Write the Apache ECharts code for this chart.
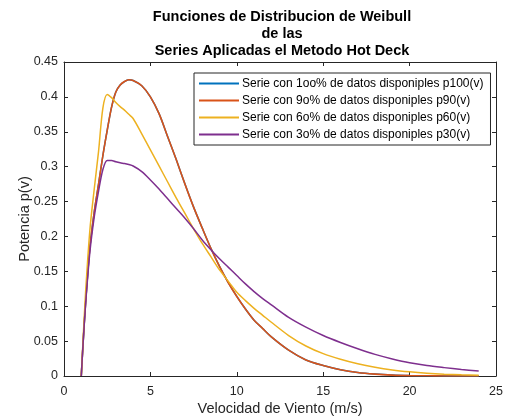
<!DOCTYPE html>
<html>
<head>
<meta charset="utf-8">
<script src="https://cdn.jsdelivr.net/npm/echarts@6/dist/echarts.min.js"></script>
<style>html,body{margin:0;padding:0;background:#fff;}#c{width:507px;height:417px;}</style>
</head>
<body>
<div id="c"></div>
<script>
var titleLines = ['Funciones de Distribucion de Weibull', 'de las', 'Series Aplicadas el Metodo Hot Deck'];
var xLabel = 'Velocidad de Viento (m/s)';
var yLabel = 'Potencia p(v)';
var seriesNames = [
  'Serie con 1oo% de datos disponiples p100(v)',
  'Serie con 9o% de datos disponiples p90(v)',
  'Serie con 6o% de datos disponiples p60(v)',
  'Serie con 3o% de datos disponiples p30(v)'
];
var speeds = [1, 1.1, 1.25, 1.5, 1.75, 2, 2.25, 2.5, 2.75, 3, 3.25, 3.5, 3.75, 4, 4.5, 5, 5.5, 6, 6.5, 7, 7.5, 8, 8.5, 9, 9.5, 10, 10.5, 11, 11.5, 12, 13, 14, 15, 16, 17, 18, 19, 20, 21, 22, 23, 24];
var p100 = [0, 0.045, 0.105, 0.185, 0.235, 0.275, 0.316, 0.352, 0.385, 0.407, 0.417, 0.422, 0.4245, 0.4235, 0.416, 0.4, 0.376, 0.343, 0.31, 0.275, 0.242, 0.212, 0.183, 0.157, 0.134, 0.114, 0.096, 0.08, 0.068, 0.056, 0.037, 0.023, 0.015, 0.009, 0.005, 0.0027, 0.0013, 0.0006, 0.0003, 0.0001, 0.00005, 0.00002];
var p90  = [0, 0.045, 0.105, 0.185, 0.235, 0.275, 0.316, 0.352, 0.385, 0.407, 0.417, 0.422, 0.4245, 0.4235, 0.416, 0.4, 0.376, 0.343, 0.31, 0.275, 0.242, 0.212, 0.183, 0.157, 0.134, 0.114, 0.096, 0.08, 0.068, 0.056, 0.037, 0.023, 0.015, 0.009, 0.005, 0.0027, 0.0013, 0.0006, 0.0003, 0.0001, 0.00005, 0.00002];
var p60  = [0, 0.05, 0.12, 0.21, 0.268, 0.322, 0.384, 0.4035, 0.399, 0.392, 0.386, 0.381, 0.375, 0.369, 0.347, 0.324, 0.301, 0.278, 0.255, 0.233, 0.211, 0.19, 0.171, 0.152, 0.136, 0.12, 0.108, 0.097, 0.087, 0.077, 0.058, 0.043, 0.032, 0.024, 0.0175, 0.0125, 0.0087, 0.006, 0.004, 0.0026, 0.0017, 0.0011];
var p30  = [0, 0.045, 0.103, 0.178, 0.228, 0.265, 0.296, 0.309, 0.309, 0.307, 0.3055, 0.3045, 0.303, 0.301, 0.293, 0.281, 0.268, 0.254, 0.24, 0.226, 0.211, 0.195, 0.181, 0.168, 0.156, 0.144, 0.132, 0.121, 0.111, 0.102, 0.084, 0.07, 0.058, 0.048, 0.039, 0.031, 0.0245, 0.019, 0.015, 0.012, 0.0093, 0.007];
var xTicks = [0, 5, 10, 15, 20, 25];
var yTicks = [0, 0.05, 0.1, 0.15, 0.2, 0.25, 0.3, 0.35, 0.4, 0.45];

var colors = ['#0072BD', '#D95319', '#EDB120', '#7E2F8E'];
var widths = [1.5, 1.6, 1.5, 1.5];
var allData = [p100, p90, p60, p30];
var FONT = 'Liberation Sans, Arial, sans-serif';

function pairs(arr) { return speeds.map(function (v, i) { return [v, arr[i]]; }); }

var series = allData.map(function (arr, k) {
  return {
    name: seriesNames[k],
    type: 'line',
    data: pairs(arr),
    showSymbol: false,
    symbol: 'none',
    smooth: 0.3,
    lineStyle: { color: colors[k], width: widths[k] },
    itemStyle: { color: colors[k] },
    z: 2 + k
  };
});

var axisCommon = {
  axisLine: { show: true, onZero: false, lineStyle: { color: '#262626', width: 1 } },
  axisTick: { show: true, inside: true, length: 4, lineStyle: { color: '#262626' } },
  splitLine: { show: false }
};

var chart = echarts.init(document.getElementById('c'), null, { renderer: 'canvas' });
chart.setOption({
  animation: false,
  backgroundColor: '#ffffff',
  grid: { left: 64, right: 11, top: 62, bottom: 41, show: false, containLabel: false, outerBoundsMode: 'none' },
  legend: {
    data: seriesNames.map(function (n, k) { return { name: n, itemStyle: { color: colors[k] } }; }),
    orient: 'vertical',
    left: 194, top: 73,
    padding: [2, 7, 2, 5],
    itemGap: 0,
    itemWidth: 40,
    itemHeight: 2,
    icon: 'rect',
    borderColor: '#262626',
    borderWidth: 1,
    borderRadius: 0,
    backgroundColor: '#ffffff',
    textStyle: { fontFamily: FONT, fontSize: 12, color: '#000', lineHeight: 17, padding: [0, 0, 0, -2] }
  },
  xAxis: [
    Object.assign({
      type: 'value', min: xTicks[0], max: xTicks[xTicks.length - 1], interval: 5,
      position: 'bottom',
      name: xLabel, nameLocation: 'middle', nameGap: 25, nameMoveOverlap: false,
      nameTextStyle: { fontFamily: FONT, fontSize: 14.5, color: '#262626' },
      axisLabel: { margin: 9, fontFamily: FONT, fontSize: 12.5, color: '#262626' }
    }, axisCommon),
    Object.assign({
      type: 'value', min: xTicks[0], max: xTicks[xTicks.length - 1], interval: 5,
      position: 'top', axisLabel: { show: false }
    }, axisCommon)
  ],
  yAxis: [
    Object.assign({
      type: 'value', min: yTicks[0], max: yTicks[yTicks.length - 1], interval: 0.05,
      position: 'left',
      name: yLabel, nameLocation: 'middle', nameGap: 32, nameMoveOverlap: false,
      nameTextStyle: { fontFamily: FONT, fontSize: 14.5, color: '#262626' },
      axisLabel: { margin: 6, fontFamily: FONT, fontSize: 12.5, color: '#262626',
        formatter: function (v) { return String(Math.round(v * 100) / 100); } }
    }, axisCommon),
    Object.assign({
      type: 'value', min: yTicks[0], max: yTicks[yTicks.length - 1], interval: 0.05,
      position: 'right', axisLabel: { show: false }
    }, axisCommon)
  ],
  graphic: titleLines.map(function (t, i) {
    return {
      type: 'text', x: 282, y: 17 + i * 17,
      style: { text: t, fontFamily: FONT, fontSize: 14.5, fontWeight: 'bold',
        fill: '#000', textAlign: 'center', textVerticalAlign: 'middle', align: 'center', verticalAlign: 'middle' }
    };
  }),
  series: series
});
</script>
</body>
</html>
